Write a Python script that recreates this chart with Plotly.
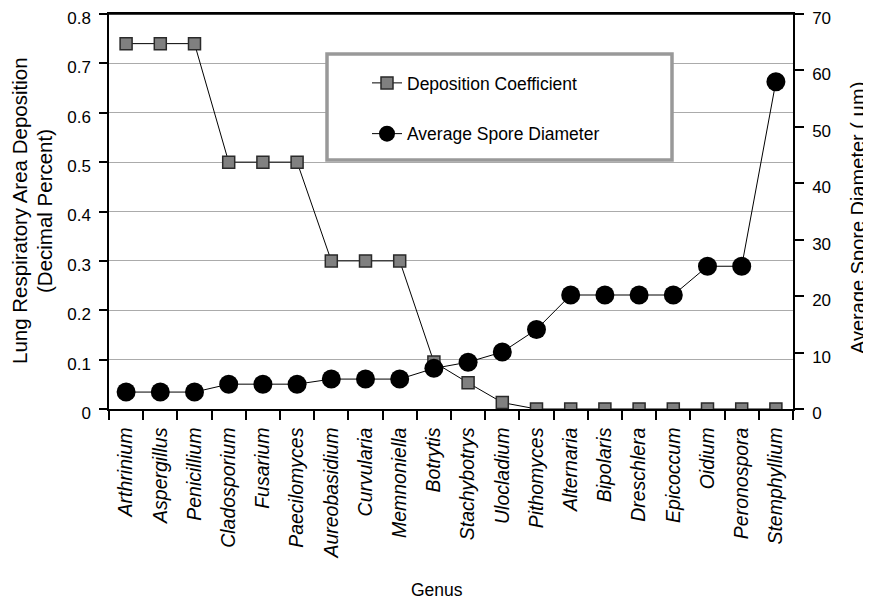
import plotly.graph_objects as go

genera = ["Arthrinium", "Aspergillus", "Penicillium", "Cladosporium", "Fusarium",
          "Paecilomyces", "Aureobasidium", "Curvularia", "Memnoniella", "Botrytis",
          "Stachybotrys", "Ulocladium", "Pithomyces", "Alternaria", "Bipolaris",
          "Dreschlera", "Epicoccum", "Oidium", "Peronospora", "Stemphyllium"]
deposition = [0.74, 0.74, 0.74, 0.5, 0.5, 0.5, 0.3, 0.3, 0.3, 0.095,
              0.053, 0.013, 0, 0, 0, 0, 0, 0, 0, 0]
diameter = [3, 3, 3, 4.4, 4.4, 4.4, 5.3, 5.3, 5.3, 7.2,
            8.3, 10.1, 14.1, 20.2, 20.2, 20.2, 20.2, 25.3, 25.3, 58]
left_ticks = [0, 0.1, 0.2, 0.3, 0.4, 0.5, 0.6, 0.7, 0.8]
right_ticks = [0, 10, 20, 30, 40, 50, 60, 70]

FONT = "Liberation Sans, Arial, Helvetica, sans-serif"
OFF = 8  # page body margin of the html page
W, H = 871 - OFF, 600 - OFF
L, R, T, B = 109 - OFF, 871 - 793, 14 - OFF, 600 - 409
PW, PH = W - L - R, H - T - B

def px(xs):
    return (xs - OFF - L) / PW

def py(ys):
    return (H - B - (ys - OFF)) / PH

fig = go.Figure()
fig.add_trace(go.Scatter(
    x=genera, y=deposition, name="Deposition Coefficient", mode="lines+markers",
    line=dict(color="black", width=1),
    marker=dict(symbol="square", size=12, color="#808080", line=dict(color="#2a2a2a", width=1.5)),
    yaxis="y", legendgroup="a"))
fig.add_trace(go.Scatter(
    x=genera, y=diameter, name="Average Spore Diameter", mode="lines+markers",
    line=dict(color="black", width=1),
    marker=dict(symbol="circle", size=19, color="black", line=dict(color="black", width=0)),
    yaxis="y2", legendgroup="b"))

axis_common = dict(linecolor="black", linewidth=1.5, tickcolor="black", tickwidth=1.5,
                   zeroline=False, automargin=False, ticklabeloverflow="allow",
                   ticklabelstandoff=5, ticklabelshift=4,
                   tickfont=dict(family=FONT, size=17, color="black"))

fig.update_layout(
    width=W, height=H,
    margin=dict(l=L, r=R, t=T, b=B, pad=0, autoexpand=False),
    paper_bgcolor="white", plot_bgcolor="white",
    font=dict(family=FONT, color="black"),
    showlegend=True,
    xaxis=dict(type="category", categoryorder="array", categoryarray=genera,
               range=[-0.5, len(genera) - 0.5], tickson="boundaries", automargin=False,
               ticks="outside", ticklen=9, tickangle=-90, showgrid=False,
               showline=True, mirror=True, linecolor="black", linewidth=1.5,
               tickcolor="black", tickwidth=1.5, zeroline=False,
               ticklabeloverflow="allow", ticklabelstandoff=9,
               tickfont=dict(family=FONT, size=19.5, color="black"),
               tickvals=genera, ticktext=["<i>%s</i>" % g for g in genera]),
    xaxis2=dict(overlaying="x", anchor="y", range=[-0.5, len(genera) - 0.5], automargin=False,
                tickmode="linear", tick0=-0.5, dtick=1, ticks="inside", ticklen=9,
                tickcolor="black", tickwidth=1.5, showticklabels=False,
                showgrid=False, showline=False, zeroline=False, side="bottom"),
    yaxis=dict(range=[0, 0.8], tickvals=left_ticks, ticktext=["%g" % v for v in left_ticks],
               ticks="outside", ticklen=8, showgrid=True, gridcolor="#ababab", gridwidth=1.2,
               showline=True, **axis_common),
    yaxis2=dict(range=[0, 70], tickvals=right_ticks, overlaying="y", side="right", anchor="x",
                ticks="outside", ticklen=9, showgrid=False, showline=True, **axis_common),
    yaxis3=dict(range=[0, 0.8], tickvals=left_ticks, overlaying="y", side="left", anchor="x",
                ticks="inside", ticklen=8, tickcolor="black", tickwidth=1.5, automargin=False,
                showticklabels=False, showgrid=False, showline=False, zeroline=False),
    yaxis4=dict(range=[0, 70], tickvals=right_ticks, overlaying="y", side="right", anchor="x",
                ticks="inside", ticklen=12, tickcolor="black", tickwidth=1.5, automargin=False,
                showticklabels=False, showgrid=False, showline=False, zeroline=False),
    legend=dict(x=px(367), y=py(65), xanchor="left", yanchor="top",
                bgcolor="rgba(0,0,0,0)", borderwidth=0, traceorder="grouped",
                tracegroupgap=25, font=dict(family=FONT, size=17.5, color="black")),
    shapes=[dict(type="rect", xref="paper", yref="paper",
                 x0=px(327), x1=px(672), y0=py(160), y1=py(54),
                 line=dict(color="#999999", width=3.5), fillcolor="white", layer="above"),
            dict(type="line", xref="paper", yref="paper", x0=0, x1=1, y0=1, y1=1,
                 line=dict(color="black", width=1.5), layer="above")],
    annotations=[
        dict(text="Lung Respiratory Area Deposition", xref="paper", yref="paper",
             x=px(19), y=py(211), xanchor="center", yanchor="middle", textangle=-90, showarrow=False,
             font=dict(family=FONT, size=20.5, color="black")),
        dict(text="(Decimal Percent)", xref="paper", yref="paper",
             x=px(44), y=py(211), xanchor="center", yanchor="middle", textangle=-90, showarrow=False,
             font=dict(family=FONT, size=20.5, color="black")),
        dict(text="Average Spore Diameter ( \u00b5m)", xref="paper", yref="paper",
             x=px(858), y=py(218), xanchor="center", yanchor="middle", textangle=-90, showarrow=False,
             font=dict(family=FONT, size=20, color="black")),
        dict(text="Genus", xref="paper", yref="paper", x=px(437), y=py(590),
             xanchor="center", yanchor="middle", showarrow=False,
             font=dict(family=FONT, size=17.5, color="black")),
    ],
)

fig.write_html("out.html")
